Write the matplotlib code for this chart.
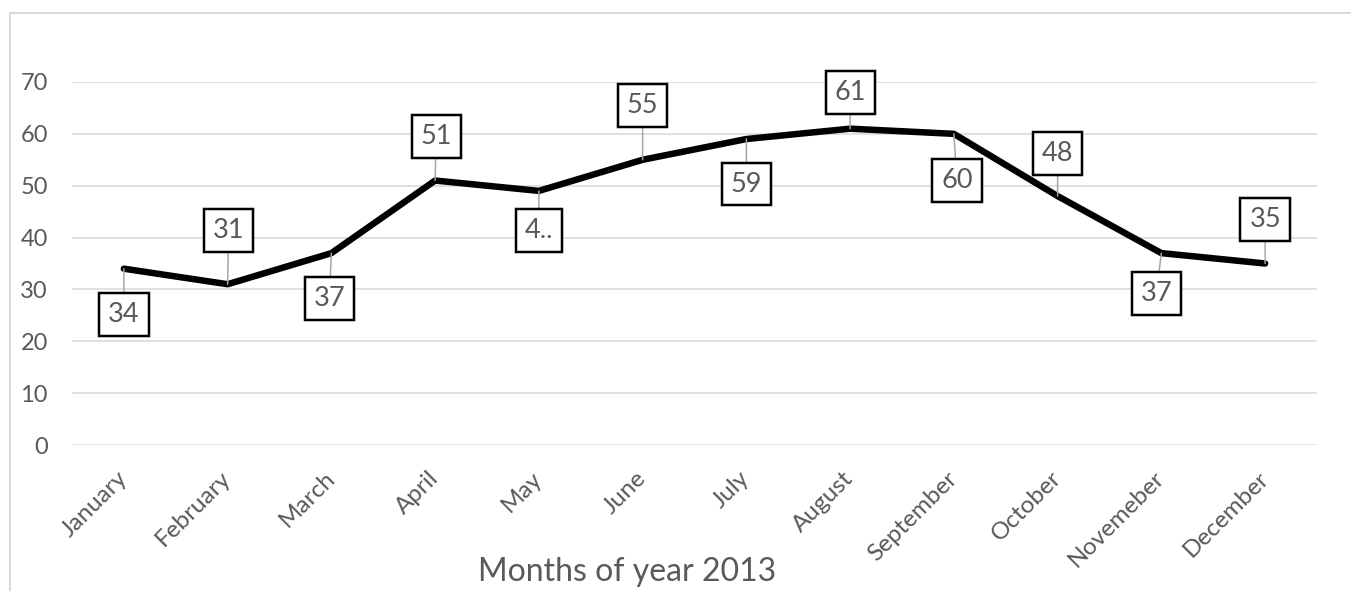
import matplotlib
matplotlib.use('Agg')
import matplotlib.pyplot as plt
from matplotlib.lines import Line2D

# ── data ─────────────────────────────────────────────────────────────────────
months = ['January', 'February', 'March', 'April', 'May', 'June', 'July',
          'August', 'September', 'October', 'Novemeber', 'December']
values = [34, 31, 37, 51, 49, 55, 59, 61, 60, 48, 37, 35]
label_texts = ['34', '31', '37', '51', '4..', '55', '59', '61', '60', '48', '37', '35']
y_ticks = [0, 10, 20, 30, 40, 50, 60, 70]

# label box offsets from the point, in pixels (x, y up)
label_offsets = [(0, -46), (1, 54), (-2, -45), (1, 44), (0, -40), (0, 54),
                 (0, -45), (0, 36), (3, -47), (0, 43), (-5, -40), (0, 44)]

# ── palette ──────────────────────────────────────────────────────────────────
TXT   = '#595959'
GRID  = '#d9d9d9'
LEAD  = '#a6a6a6'
FONT  = ['Lato', 'DejaVu Sans']

plt.rcParams['font.family'] = FONT

W, H, DPI = 1351, 591, 100
fig = plt.figure(figsize=(W / DPI, H / DPI), dpi=DPI, facecolor='white')
px = 72 / DPI  # points per pixel

# plot area: gridlines from x=72 to 1317, y=0 at 445px, y=70 at 82px
ax = fig.add_axes([72 / W, (H - 445) / H, (1317 - 72) / W, (445 - 82) / H])
ax.set_facecolor('white')

x = list(range(len(months)))
ax.plot(x, values, color='black', lw=6.5 * px, solid_joinstyle='round',
        solid_capstyle='round', zorder=3)

ax.set_xlim(-0.5, len(months) - 0.5)
ax.set_ylim(0, 70)
ax.set_yticks(y_ticks)
ax.yaxis.grid(True, color=GRID, lw=1.6 * px)
ax.set_axisbelow(True)
for s in ax.spines.values():
    s.set_visible(False)

ax.set_xticks(x)
ax.set_xticklabels(months, rotation=45, ha='right', va='center',
                   rotation_mode='anchor', fontsize=17.5, color=TXT)
ax.tick_params(axis='x', length=0, pad=30 * px)
ax.tick_params(axis='y', length=0, labelsize=17, labelcolor=TXT, pad=24 * px)

# data labels with leader lines
for xi, v, t, (dx, dy) in zip(x, values, label_texts, label_offsets):
    ax.annotate(t, xy=(xi, v), xytext=(dx * px, dy * px), textcoords='offset points',
                ha='center', va='center', fontsize=19.5, color=TXT, zorder=5,
                bbox=dict(boxstyle='square,pad=0.33', fc='white', ec='black', lw=2.5 * px),
                arrowprops=dict(arrowstyle='-', color=LEAD, lw=1.5 * px,
                                shrinkA=0, shrinkB=0))

fig.text(627 / W, (H - 572) / H, 'Months of year 2013', ha='center', va='center',
         fontsize=23, color=TXT)

# chart frame (top and left edges visible in the crop)
fig.add_artist(Line2D([10 / W, 1], [(H - 13) / H] * 2, color=GRID, lw=2 * px))
fig.add_artist(Line2D([10 / W] * 2, [0, (H - 13) / H], color=GRID, lw=2 * px))

fig.savefig('out.png', dpi=DPI, facecolor='white')
